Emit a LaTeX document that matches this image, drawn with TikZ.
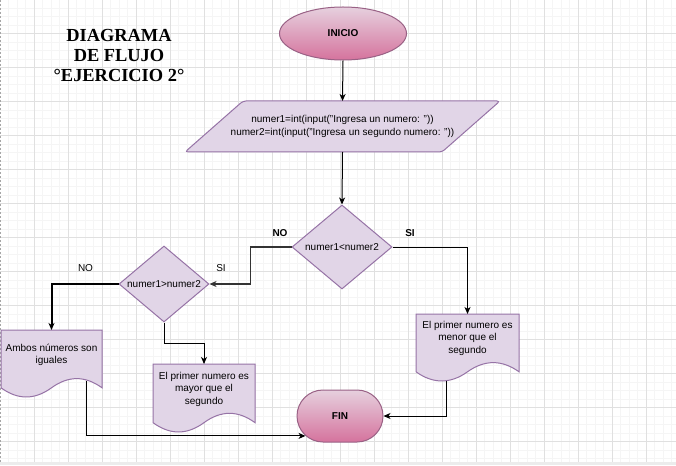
\documentclass[tikz,border=0pt]{standalone}
\usepackage{fontspec}
\setmainfont{Liberation Sans}
\newfontfamily\titlefont{Liberation Serif}
\usetikzlibrary{shapes.geometric,shapes.misc,calc,arrows.meta}
\pgfdeclarelayer{gridlayer}
\pgfdeclarelayer{shapelayer}
\pgfsetlayers{gridlayer,shapelayer,main}
\definecolor{pfill}{HTML}{E1D5E7}
\definecolor{pline}{HTML}{9673A6}
\definecolor{ktop}{HTML}{E6D0DE}
\definecolor{kbot}{HTML}{D5739D}
\definecolor{kline}{HTML}{996185}
\definecolor{gmin}{HTML}{F5F5F5}
\definecolor{gmaj}{HTML}{E0E0E0}
\definecolor{stripc}{HTML}{ECECEC}
\tikzset{
  txt/.style={font=\fontsize{10}{12.5}\selectfont, align=center},
  term/.style={draw=kline, line width=1pt, top color=ktop, bottom color=kbot,
    font=\bfseries\fontsize{10}{12}\selectfont, inner sep=0pt},
  decision/.style={diamond, draw=pline, fill=pfill, line width=1pt, inner sep=0pt, txt},
  box/.style={inner sep=0pt, outer sep=0pt},
  shapefill/.style={draw=pline, fill=pfill, line width=1pt},
  arr/.style={draw=black, line width=1pt, -{Stealth[length=7pt,width=6pt,inset=2pt]}},
  lab/.style={font=\fontsize{10}{12}\selectfont},
  labb/.style={font=\bfseries\fontsize{10}{12}\selectfont},
}
\newcommand\docwave[1]{%
  \path[shapefill] let \p1=(#1.north west), \p2=(#1.south east),
    \n1={\x2-\x1}, \n2={\y1-\y2} in
    (\x1,\y1) -- (\x2,\y1) -- (\x2,{\y2+0.15*\n2})
    .. controls ({\x2-\n1/6},{\y2+0.33*\n2}) and ({\x1+2*\n1/3},{\y2+0.33*\n2}) ..
    ({\x1+\n1/2},{\y2+0.15*\n2})
    .. controls ({\x1+\n1/3},{\y2-0.03*\n2}) and ({\x1+\n1/6},{\y2-0.03*\n2}) ..
    (\x1,{\y2+0.15*\n2}) -- cycle;}
\begin{document}
\begin{tikzpicture}[x=1pt,y=-1pt]
\useasboundingbox (0,0) rectangle (676,465);
\begin{pgfonlayer}{gridlayer}
  \fill[white] (0,0) rectangle (676,465);
  \foreach \i in {1,...,79} {\draw[gmin, line width=0.8pt] ({8.5*\i},0) -- ({8.5*\i},461.5);}
  \foreach \i in {1,...,54} {\draw[gmin, line width=0.8pt] (0,{8.5*\i-0.5}) -- (676,{8.5*\i-0.5});}
  \foreach \i in {1,...,19} {\draw[gmaj, line width=0.8pt] ({34*\i},0) -- ({34*\i},461.5);}
  \foreach \i in {0,...,12} {\draw[gmaj, line width=0.8pt] (0,{33.5+34*\i}) -- (676,{33.5+34*\i});}
  \fill[stripc] (0,461.5) rectangle (676,465);
  \draw[black!35, dash pattern=on 2pt off 2pt, line width=1pt] (0.5,0) -- (0.5,461.5);
\end{pgfonlayer}

% title
\node[align=center, font=\titlefont\bfseries\fontsize{18.4}{20.3}\selectfont] (title) at (119,55.5)
  {DIAGRAMA\\DE FLUJO\\°EJERCICIO 2°};

% nodes
\node[term, ellipse, minimum width=127pt, minimum height=53pt] (ini) at (343,33.5) {INICIO};
\node[box, txt, minimum width=315pt, minimum height=51pt] (io) at (342.5,126.5)
  {numer1=int(input("Ingresa un numero: "))\\numer2=int(input("Ingresa un segundo numero: "))};
\node[decision, minimum width=100pt, minimum height=84pt, aspect=1.19] (d1) at (342,247) {numer1<numer2};
\node[decision, minimum width=90pt, minimum height=76pt, aspect=1.18] (d2) at (164,284) {numer1>numer2};
\node[box, minimum width=101pt, minimum height=68pt,
  label={[txt,yshift=9pt]center:{Ambos números son\\iguales}}] (docA) at (51.5,364) {};
\node[box, minimum width=102pt, minimum height=69pt,
  label={[txt,yshift=9.5pt]center:{El primer numero es\\mayor que el\\segundo}}] (docB) at (204,398.5) {};
\node[box, minimum width=103pt, minimum height=68pt,
  label={[txt,yshift=10pt]center:{El primer numero es\\menor que el\\segundo}}] (docC) at (467.5,348) {};
\node[term, rounded rectangle, minimum width=86pt, minimum height=52pt] (fin) at (340,416) {FIN};

\begin{pgfonlayer}{shapelayer}
  \path[shapefill, rounded corners=3pt] ([xshift=58pt]io.north west) -- (io.north east)
    -- ([xshift=-58pt]io.south east) -- (io.south west) -- cycle;
  \docwave{docA}
  \docwave{docB}
  \docwave{docC}
\end{pgfonlayer}

% labels
\node[labb] (no1) at (280,233) {NO};
\node[labb] (si1) at (410,233) {SI};
\node[lab] (no2) at (85.5,268) {NO};
\node[lab] (si2) at (221,268) {SI};

% connectors
\draw[arr] (ini.south) -- (io.north);
\draw[arr] (io.south) -- (d1.north);
\draw[arr, draw=black!80, line width=1.3pt] (d1.west) -| ($(d1.west)!.5!(d2.east)$) |- (d2.east);
\draw[arr] (d1.east) -| (docC.north);
\draw[arr, line width=2pt] (d2.west) -| (docA.north);
\draw[arr] (d2.south) |- ($(d2.south)!.5!(docB.north)$) -| (docB.north);
\coordinate (outC) at ([xshift=-21.5pt,yshift=1pt]docC.south);
\draw[arr] (outC) |- (fin.east);
\coordinate (outA) at ([xshift=34.5pt,yshift=17pt]docA.south);
\draw[arr] (outA) |- (fin.210);
\end{tikzpicture}
\end{document}
